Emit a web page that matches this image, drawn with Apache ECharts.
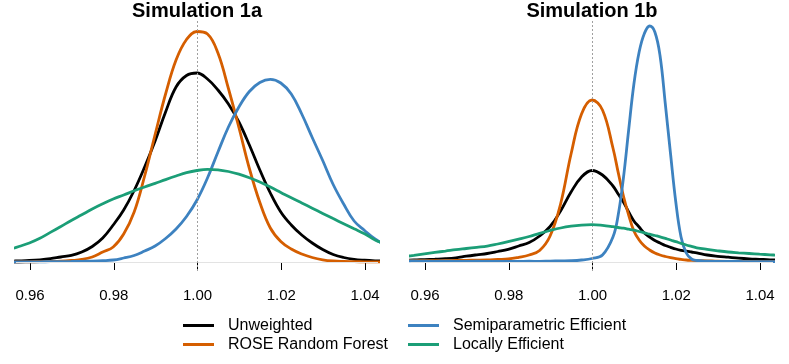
<!DOCTYPE html>
<html>
<head>
<meta charset="utf-8">
<script src="https://cdn.jsdelivr.net/npm/echarts@6/dist/echarts.min.js"></script>
<style>
  html, body { margin: 0; padding: 0; background: #fff; }
  #main { width: 789px; height: 364px; }
</style>
</head>
<body>
<div id="main"></div>
<script>
// estimated density curves (arbitrary units)
var xA = [0.955, 0.9575, 0.96, 0.9625, 0.965, 0.9675, 0.97, 0.9725, 0.975, 0.9775,
          0.98, 0.9825, 0.985, 0.9875, 0.99, 0.9925, 0.995, 0.9975, 1.0, 1.0025,
          1.005, 1.0075, 1.01, 1.0125, 1.015, 1.0175, 1.02, 1.0225, 1.025, 1.0275,
          1.03, 1.0325, 1.035, 1.0375, 1.04, 1.0425, 1.045];
var unweightedA = [0.8, 1.1, 1.5, 2.2, 3.3, 5, 6.6, 10, 15.5, 24,
                   37, 52, 71.5, 95, 121, 150, 175, 186.5, 189, 183,
                   172, 158, 140, 117, 92, 69, 50, 37, 27, 19,
                   12.5, 7.5, 4.5, 2.7, 1.8, 1.2, 0.8];
var roseA = [0, 0, 0.2, 0.3, 0.5, 0.8, 1.5, 2.5, 5, 10,
             15, 28, 50, 86, 127.5, 168, 202, 222.5, 230.5, 228,
             209, 173.5, 134.5, 93.5, 59.5, 34, 20.5, 13, 8, 4.5,
             2.2, 1, 0.5, 0.3, 0.2, 0.1, 0.1];
var semiA = [0, 0, 0.1, 0.2, 0.3, 0.4, 0.5, 0.7, 0.9, 1.3,
             2, 4, 6.5, 11, 16, 23.5, 33, 45.5, 62, 84,
             110, 135, 155, 170.5, 179.5, 182.7, 179, 168, 148, 124.5,
             101.5, 77.5, 58, 41, 31.5, 23, 17];
var localA = [12, 15.5, 19, 23.7, 29.6, 35.5, 41.5, 47.2, 53, 58.2,
              63, 67, 71.2, 75, 78.6, 82.4, 86, 89.3, 91.5, 92.6,
              92.2, 90.5, 87.8, 84.3, 80, 75, 69.6, 64.2, 59, 53.8,
              48.6, 43.4, 38.3, 33.2, 28.2, 22, 18];

var xB = [0.955, 0.9575, 0.96, 0.9625, 0.965, 0.9675, 0.97, 0.9725, 0.975, 0.9775,
          0.98, 0.9825, 0.985, 0.9875, 0.99, 0.9925, 0.995, 0.9975, 1.0, 1.0025,
          1.005, 1.00625, 1.0075, 1.00875, 1.01, 1.01125, 1.0125, 1.01375, 1.015, 1.01625,
          1.0175, 1.01875, 1.02, 1.02125, 1.0225, 1.02375, 1.025,
          1.0275, 1.03, 1.0325, 1.035, 1.0375, 1.04, 1.0425, 1.045];
var unweightedB = [1.8, 2, 2.4, 2.8, 3.3, 4.2, 5.8, 7.2, 8.5, 10.5,
                   12.7, 16, 19.5, 26, 35.5, 51, 70, 85, 91.5, 87,
                   76, 68, 60, 50, 41, 35, 29, 25, 21.5, 19,
                   16.5, 14.7, 13, 11.7, 10.8, 10, 9.2,
                   7, 5.7, 4.8, 3.9, 3.2, 2.7, 2.2, 1.9];
var roseB = [1.3, 1.3, 1.3, 1.4, 1.5, 1.6, 1.7, 1.8, 2, 2.5,
             3, 4.7, 7, 11.5, 26, 58, 108, 148, 162, 152,
             114, 89.6, 66, 47, 31, 22, 16, 12, 9, 7,
             5.5, 4.3, 3.3, 2.6, 2, 1.7, 1.5,
             1.2, 0.8, 0.6, 0.5, 0.4, 0.3, 0.3, 0.3];
var semiB = [1.2, 1.0, 0.8, 0.7, 0.9, 0.6, 0.5, 0.8, 0.6, 0.7,
             0.5, 0.6, 0.8, 0.6, 0.9, 1.1, 1.3, 2, 3.5, 7,
             25, 47, 84, 132, 178, 210, 228.5, 236, 230, 206,
             158, 108, 60, 25, 9, 3, 1.5,
             0.8, 0.6, 0.5, 0.5, 0.4, 0.4, 0.3, 0.3];
var localB = [5.3, 6.7, 8.2, 9.6, 10.9, 12.3, 13.5, 14.7, 15.9, 18,
              20.3, 22.8, 25.5, 28.7, 31.5, 34, 35.8, 36.9, 37.3, 36.6,
              35.3, 34.5, 33.8, 32.8, 31.8, 30.5, 29.2, 27.8, 26.5, 25.2,
              23.6, 22, 20.3, 18.7, 17, 15.6, 14.2,
              12.6, 11.2, 10, 9.2, 8.5, 7.8, 7.2, 6.6];

var panelTitles = ['Simulation 1a', 'Simulation 1b'];
var seriesNames = ['Unweighted', 'ROSE Random Forest', 'Semiparametric Efficient', 'Locally Efficient'];
var seriesColors = ['#000000', '#D55E00', '#3D82C0', '#1B9E77'];

var font = "'Liberation Sans', Arial, sans-serif";

function pairs(xs, ys) {
  return xs.map(function (x, i) { return [x, ys[i]]; });
}

var myChart = echarts.init(document.getElementById('main'));

var panels = [
  { xs: xA, ys: [unweightedA, roseA, semiA, localA] },
  { xs: xB, ys: [unweightedB, roseB, semiB, localB] }
];

var dataLeft = [16, 411];
var axisLeft = [30, 425];

var grids = [], xAxes = [], yAxes = [], series = [], titles = [];

panels.forEach(function (p, k) {
  // grid for the curves (R style padded range)
  grids.push({ left: dataLeft[k], top: 20, width: 362, height: 251 });
  // grid only for the drawn axis, which runs tick to tick
  grids.push({ left: axisLeft[k], top: 20, width: 335, height: 251 });

  xAxes.push({ gridIndex: 2 * k, type: 'value', min: 0.9568, max: 1.0432, show: false });
  xAxes.push({
    gridIndex: 2 * k + 1, type: 'value', min: 0.96, max: 1.04, interval: 0.02,
    axisLine: { lineStyle: { color: '#000', width: 1 } },
    axisTick: { length: 8, lineStyle: { color: '#000' } },
    axisLabel: {
      color: '#000', fontSize: 15, fontFamily: font, margin: 17,
      formatter: function (v) { return v.toFixed(2); }
    },
    splitLine: { show: false }
  });
  yAxes.push({ gridIndex: 2 * k, type: 'value', min: -9, max: 242, show: false });
  yAxes.push({ gridIndex: 2 * k + 1, type: 'value', min: -9, max: 242, show: false });

  // reference lines: zero baseline and x = 1
  series.push({
    type: 'line', xAxisIndex: 2 * k, yAxisIndex: 2 * k, data: [], z: 1, silent: true,
    markLine: {
      silent: true, symbol: 'none', label: { show: false },
      data: [
        { yAxis: 0, lineStyle: { color: '#e3e3e3', width: 1, type: 'solid' } },
        { xAxis: 1.0, lineStyle: { color: '#a0a0a0', width: 1, type: [2, 2] } }
      ]
    }
  });

  p.ys.forEach(function (ys, i) {
    series.push({
      name: seriesNames[i], type: 'line',
      xAxisIndex: 2 * k, yAxisIndex: 2 * k,
      data: pairs(p.xs, ys),
      smooth: 0.4, showSymbol: false, symbol: 'none',
      lineStyle: { color: seriesColors[i], width: 2.8 },
      itemStyle: { color: seriesColors[i] },
      z: 2 + i
    });
  });

  titles.push({
    text: panelTitles[k], left: dataLeft[k] + 181, top: 1, padding: 0,
    textAlign: 'center',
    textStyle: { fontSize: 20, fontWeight: 'bold', color: '#000', fontFamily: font }
  });
});

var legendBase = {
  orient: 'vertical', top: 316, padding: 0, itemWidth: 31, itemHeight: 3, itemGap: 0,
  icon: 'rect', selectedMode: false,
  textStyle: { fontSize: 16, color: '#000', fontFamily: font, lineHeight: 19, padding: [0, 0, 0, 9] }
};

var option = {
  backgroundColor: '#ffffff',
  animation: false,
  title: titles,
  legend: [
    Object.assign({}, legendBase, { left: 183, data: ['Unweighted', 'ROSE Random Forest'] }),
    Object.assign({}, legendBase, { left: 408, data: ['Semiparametric Efficient', 'Locally Efficient'] })
  ],
  grid: grids,
  xAxis: xAxes,
  yAxis: yAxes,
  series: series
};

myChart.setOption(option);
</script>
</body>
</html>
